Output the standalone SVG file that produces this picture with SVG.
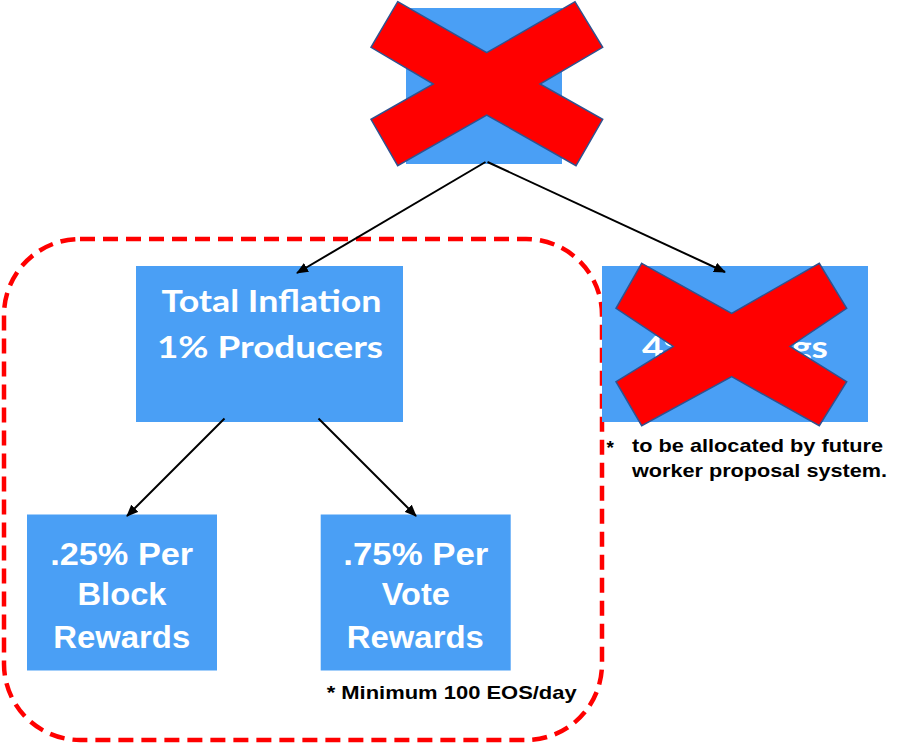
<svg xmlns="http://www.w3.org/2000/svg" width="898" height="743" viewBox="0 0 898 743">
<style>
.box{fill:#4A9FF5;}
.x{fill:#FF0000;stroke:#2F528F;stroke-width:1.5;stroke-linejoin:miter;}
.t1{font-family:Lato,"Open Sans","Liberation Sans",sans-serif;font-weight:bold;font-size:31px;fill:#FFFFFF;text-anchor:middle;}
.t2{font-family:"Liberation Sans",Arial,sans-serif;font-weight:bold;font-size:31px;fill:#FFFFFF;text-anchor:middle;}
.note{font-family:"Liberation Sans",Arial,sans-serif;font-weight:bold;font-size:19px;fill:#000000;}
.conn{stroke:#000000;stroke-width:2;fill:none;marker-end:url(#ah);}
</style>
<defs>
<marker id="ah" viewBox="0 0 12 10" refX="11" refY="5" markerWidth="12" markerHeight="10" markerUnits="userSpaceOnUse" orient="auto">
<path d="M0,0 L12,5 L0,10 Z" fill="#000000"/>
</marker>
</defs>
<rect width="898" height="743" fill="#FFFFFF"/>
<g id="group-frame">
<rect x="4" y="239" width="598" height="501" rx="76" ry="76" fill="none" stroke="#FF0000" stroke-width="4.5" stroke-dasharray="15 8"/>
</g>
<g id="node-top">
<rect class="box" x="406" y="8" width="156" height="156"/>
<polygon class="x" points="397.7,1.7 486.7,52.7 575,1.7 602.7,47.3 540,84 602.7,119.3 576,165.7 486.7,115 397.7,165.7 371,119.3 433.3,84 371,47.3"/>
</g>
<g id="node-inflation">
<rect class="box" x="136" y="266" width="267" height="156"/>
<text class="t1" x="271.5" y="311.5" textLength="220" lengthAdjust="spacingAndGlyphs">Total Inflation</text>
<text class="t1" x="270" y="357.5" textLength="226" lengthAdjust="spacingAndGlyphs">1% Producers</text>
</g>
<g id="node-savings">
<rect class="box" x="602" y="266" width="266" height="156"/>
<text class="t1" x="735" y="358" textLength="186" lengthAdjust="spacingAndGlyphs">4% Savings</text>
<polygon class="x" points="641.7,263.3 731.7,313.3 819.3,263.3 846.7,308.3 790,346.5 846.7,381.7 819.3,425.7 731.7,376.7 641.7,425.7 616,381.7 673.3,346.5 616,308.3"/>
<text class="note" x="606.5" y="454" font-size="24">*</text>
<text class="note" x="632" y="451.7" textLength="251" lengthAdjust="spacingAndGlyphs">to be allocated by future</text>
<text class="note" x="632" y="476.7" textLength="255" lengthAdjust="spacingAndGlyphs">worker proposal system.</text>
</g>
<g id="node-block">
<rect class="box" x="27" y="514.5" width="190" height="156"/>
<text class="t2" x="121.7" y="565" textLength="143" lengthAdjust="spacingAndGlyphs">.25% Per</text>
<text class="t2" x="122" y="605" textLength="89" lengthAdjust="spacingAndGlyphs">Block</text>
<text class="t2" x="121.7" y="648.3" textLength="137" lengthAdjust="spacingAndGlyphs">Rewards</text>
</g>
<g id="node-vote">
<rect class="box" x="320.7" y="514.5" width="190" height="156"/>
<text class="t2" x="415.8" y="565" textLength="145" lengthAdjust="spacingAndGlyphs">.75% Per</text>
<text class="t2" x="415.8" y="605" textLength="68" lengthAdjust="spacingAndGlyphs">Vote</text>
<text class="t2" x="415.3" y="648.3" textLength="137" lengthAdjust="spacingAndGlyphs">Rewards</text>
<text class="note" x="326.7" y="699.3" textLength="250" lengthAdjust="spacingAndGlyphs">* Minimum 100 EOS/day</text>
</g>
<g id="connectors">
<line class="conn" x1="485.5" y1="162" x2="297" y2="273"/>
<line class="conn" x1="487.5" y1="162" x2="725" y2="272"/>
<line class="conn" x1="224.5" y1="418.5" x2="127" y2="516"/>
<line class="conn" x1="318.5" y1="418.5" x2="416" y2="516"/>
</g>
</svg>
